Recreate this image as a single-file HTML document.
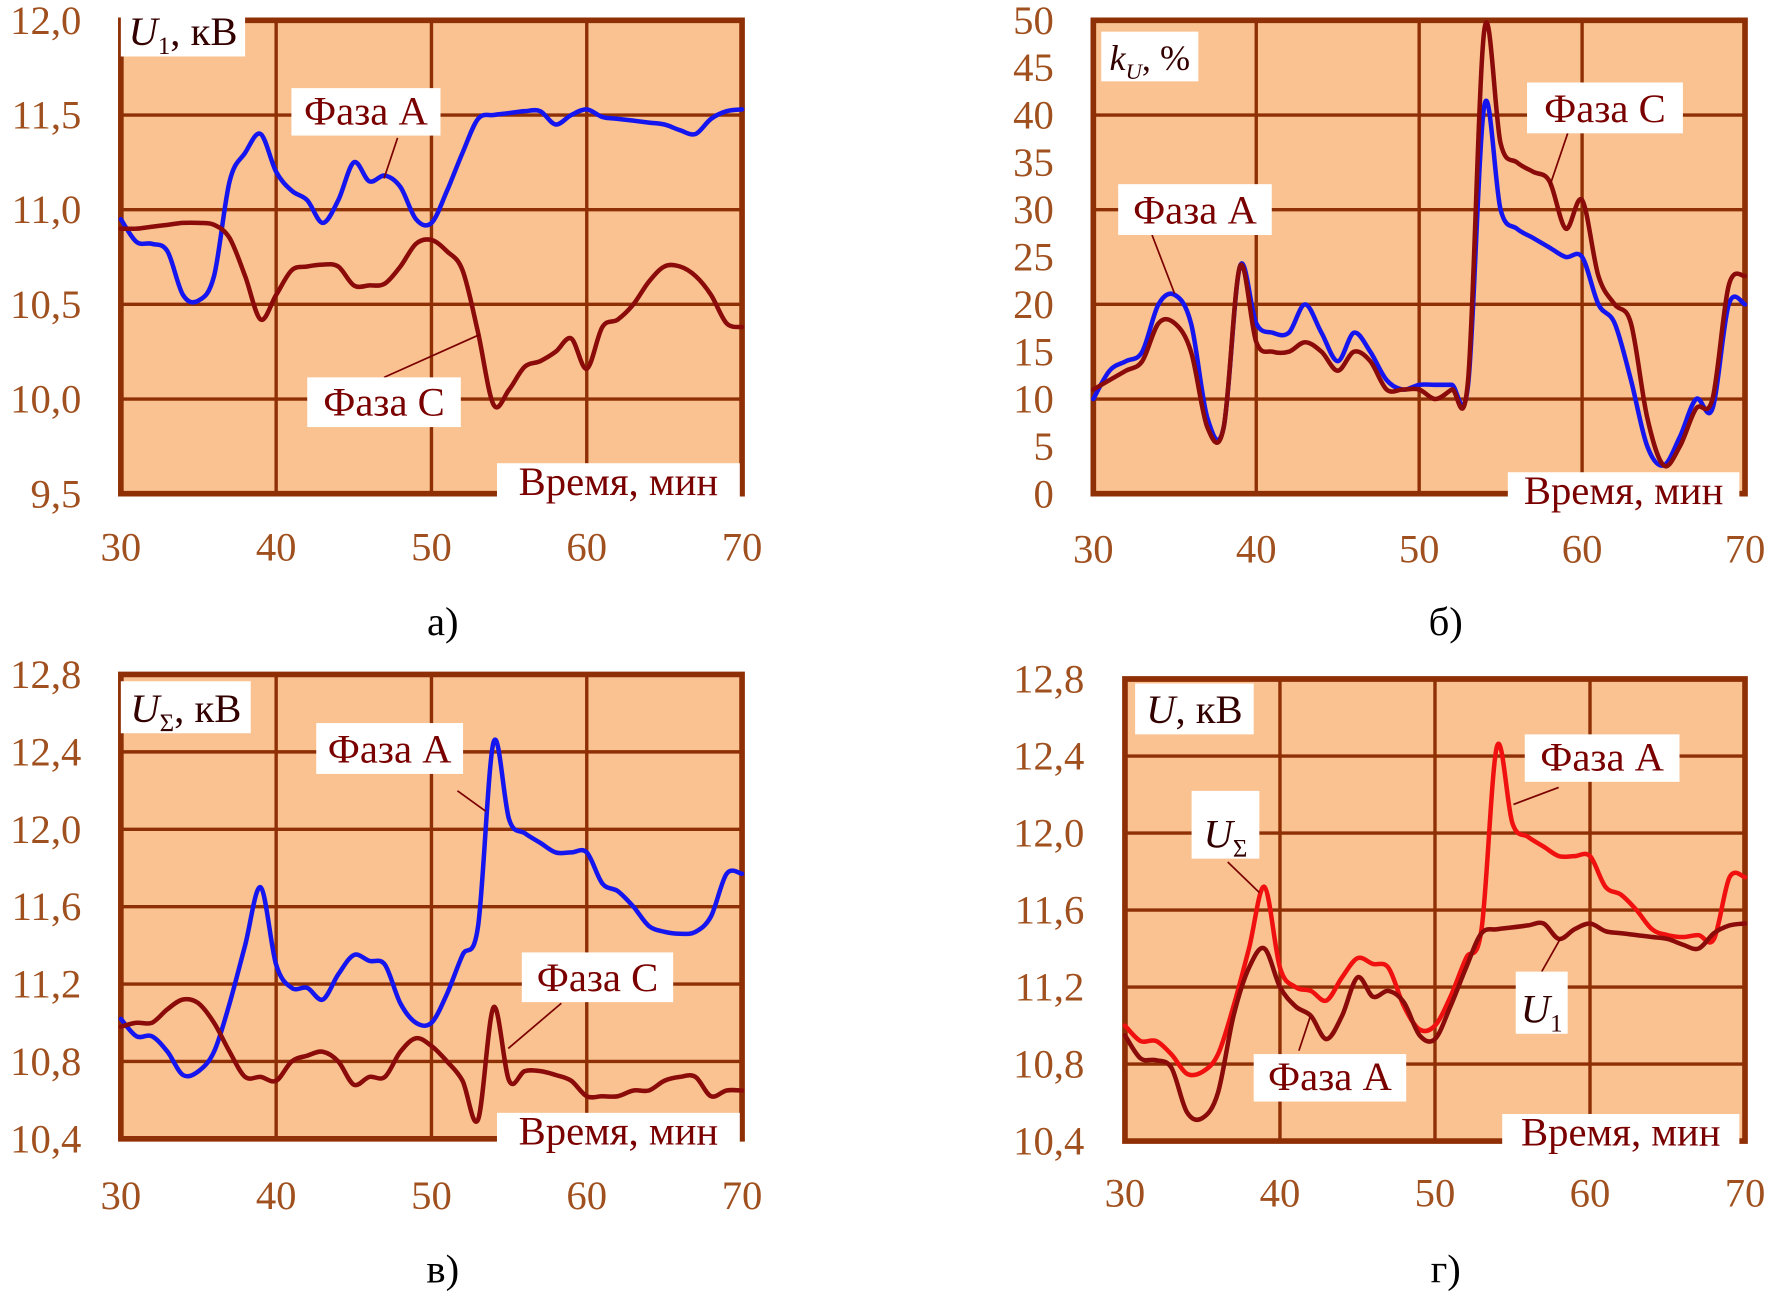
<!DOCTYPE html>
<html><head><meta charset="utf-8"><style>
html,body{margin:0;padding:0;background:#fff}
svg{display:block}
</style></head><body>
<svg id="chart" width="1771" height="1297" viewBox="0 0 1568 1148" preserveAspectRatio="none" xmlns="http://www.w3.org/2000/svg" font-family="'Liberation Serif','Times New Roman','DejaVu Serif',serif"></svg>
<script>
const xTimes=[30,31,32,33,34,35,36,37,38,39,40,41,42,43,44,45,46,47,48,49,50,51,52,53,54,55,56,57,58,59,60,61,62,63,64,65,66,67,68,69,70];
const xTicks=[30,40,50,60,70];
const aPhaseA=[10.95,10.83,10.82,10.78,10.55,10.52,10.65,11.15,11.3,11.4,11.2,11.1,11.05,10.93,11.05,11.25,11.15,11.18,11.12,10.95,10.93,11.1,11.3,11.48,11.5,11.51,11.52,11.52,11.45,11.5,11.53,11.49,11.48,11.47,11.46,11.45,11.42,11.4,11.48,11.52,11.53];
const aPhaseC=[10.9,10.9,10.91,10.92,10.93,10.93,10.92,10.85,10.65,10.42,10.55,10.68,10.7,10.71,10.7,10.6,10.6,10.61,10.7,10.82,10.84,10.78,10.68,10.35,9.97,10.05,10.17,10.2,10.25,10.32,10.16,10.38,10.42,10.5,10.62,10.7,10.7,10.65,10.55,10.4,10.38];
const aTicks=["9,5","10,0","10,5","11,0","11,5","12,0"];
const bPhaseA=[10,13,14,15,20,21,18,8,7,24,18,17,17,20,17,14,17,15,12,11,11.5,11.5,11.5,11.5,41,30,28,27,26,25,25,20,18,12,5,3,6,10,9,20,20];
const bPhaseC=[11,12,13,14,18,18,15,7,7,24,16,15,15,16,15,13,15,14,11,11,11,10,11,12,49,37,35,34,33,28,31,23,20,18,8,3,5,9,10,22,23];
const bTicks=["0","5","10","15","20","25","30","35","40","45","50"];
const vPhaseA=[11.02,10.93,10.93,10.85,10.73,10.75,10.85,11.1,11.4,11.7,11.3,11.18,11.18,11.12,11.25,11.35,11.32,11.3,11.1,11.0,11.0,11.15,11.35,11.5,12.45,12.05,11.98,11.93,11.88,11.88,11.88,11.72,11.68,11.6,11.5,11.47,11.46,11.47,11.55,11.77,11.77];
const vPhaseC=[10.98,11.0,11.0,11.07,11.12,11.1,11.0,10.85,10.72,10.72,10.7,10.8,10.83,10.85,10.8,10.68,10.72,10.72,10.85,10.92,10.88,10.8,10.7,10.5,11.08,10.7,10.75,10.75,10.73,10.7,10.62,10.62,10.62,10.65,10.65,10.7,10.72,10.72,10.62,10.65,10.65];
const vTicks=["10,4","10,8","11,2","11,6","12,0","12,4","12,8"];
const gUsum=[11.0,10.92,10.92,10.85,10.75,10.76,10.85,11.1,11.4,11.72,11.3,11.2,11.18,11.13,11.25,11.35,11.32,11.3,11.1,10.98,11.0,11.15,11.35,11.5,12.45,12.05,11.98,11.93,11.88,11.88,11.88,11.72,11.68,11.6,11.5,11.47,11.46,11.47,11.45,11.77,11.77];
const gU1=[10.95,10.83,10.82,10.78,10.55,10.52,10.65,11.05,11.3,11.4,11.2,11.1,11.05,10.93,11.05,11.25,11.15,11.18,11.12,10.95,10.93,11.1,11.3,11.48,11.5,11.51,11.52,11.53,11.45,11.5,11.53,11.49,11.48,11.47,11.46,11.45,11.42,11.4,11.48,11.52,11.53];
const gTicks=["10,4","10,8","11,2","11,6","12,0","12,4","12,8"];

const NS="http://www.w3.org/2000/svg";
const svg=document.getElementById('chart');
const BG="#F9C290",GRID="#8F2F06",TICK="#A0501E",LBL="#7A0000";
function el(tag,attrs,parent){const e=document.createElementNS(NS,tag);for(const k in attrs)e.setAttribute(k,attrs[k]);(parent||svg).appendChild(e);return e;}
function smooth(pts){
  let d='M'+pts[0][0].toFixed(1)+','+pts[0][1].toFixed(1);
  for(let i=0;i<pts.length-1;i++){
    const p0=pts[i-1]||pts[i],p1=pts[i],p2=pts[i+1],p3=pts[i+2]||p2;
    const c1=[p1[0]+(p2[0]-p0[0])/6,p1[1]+(p2[1]-p0[1])/6];
    const c2=[p2[0]-(p3[0]-p1[0])/6,p2[1]-(p3[1]-p1[1])/6];
    d+='C'+c1[0].toFixed(1)+','+c1[1].toFixed(1)+' '+c2[0].toFixed(1)+','+c2[1].toFixed(1)+' '+p2[0].toFixed(1)+','+p2[1].toFixed(1);
  }
  return d;
}
function panel(cfg){
  const g=el('g',{});
  
  
  const {L,R,T,B,ymin,ymax}=cfg;
  const xs=v=>L+(v-30)/40*(R-L);
  const ys=v=>B-(v-ymin)/(ymax-ymin)*(B-T);
  const bg=el('rect',{x:L,y:T,width:R-L,height:B-T,fill:BG},g);
  
  
  cfg.grid.forEach(v=>{const l=el('line',{x1:L,x2:R,y1:ys(v),y2:ys(v),stroke:GRID,'stroke-width':3},g);
    
    });
  [40,50,60].forEach(v=>{const l=el('line',{x1:xs(v),x2:xs(v),y1:T,y2:B,stroke:GRID,'stroke-width':3},g);
    
    });
  const fr=el('path',{d:`M${L},${B}V${T}H${R}V${B}Z`,fill:'none',stroke:GRID,'stroke-width':5},g);
  
  
  cfg.ticks.forEach((t,i)=>{const v=ymin+i*(ymax-ymin)/(cfg.ticks.length-1);
    const tx=el('text',{x:cfg.yLabX,y:ys(v)+12,'text-anchor':'end','font-size':36,fill:TICK},g);tx.textContent=t;
    
    });
  xTicks.forEach(t=>{const tx=el('text',{x:xs(t),y:cfg.xLabY,'text-anchor':'middle','font-size':36,fill:TICK},g);tx.textContent=t;
    
    });
  cfg.series.forEach(s=>{const pts=s.vals.map((v,i)=>[xs(xTimes[i]),ys(v)]);
    const p=el('path',{d:smooth(pts),fill:'none',stroke:s.color,'stroke-width':4,'stroke-linejoin':'round','stroke-linecap':'round'},g);
    
    });
  cfg.labels.forEach(lb=>{
    if(lb.lead){const l=el('line',{x1:lb.lead[0],y1:lb.lead[1],x2:lb.lead[2],y2:lb.lead[3],stroke:LBL,'stroke-width':1.5},g);
      
      }
    const r=el('rect',{x:lb.x,y:lb.y,width:lb.w,height:lb.h,fill:'#fff'},g);
    
    
    const t=el('text',{x:lb.x+lb.w/2,y:lb.y+lb.h-10,'text-anchor':'middle','font-size':lb.fs||36,fill:lb.color||LBL},g);
    t.innerHTML=lb.html;
    
    
  });
  const c=el('text',{x:cfg.cap[0],y:cfg.cap[1],'text-anchor':'middle','font-size':36,fill:'#000'},g);
  c.textContent=cfg.capText;
  
  
}
const BLUE="#1515F0",DRED="#8B0A0A",RED="#F01010";
panel({name:'panel-a',L:107,R:657,T:18,B:437,ymin:9.5,ymax:12.0,grid:[10,10.5,11,11.5],ticks:aTicks,yLabX:72,xLabY:496,
 series:[{name:'line-phase-a',vals:aPhaseA,color:BLUE},{name:'line-phase-c',vals:aPhaseC,color:DRED}],
 labels:[{name:'y-axis-title',x:107,y:0,w:110,h:50,html:'<tspan font-style="italic">U</tspan><tspan font-size="22" dy="8">1</tspan><tspan dy="-8">, кВ</tspan>',color:'#300'},
  {name:'label-phase-a',x:258,y:78,w:132,h:42,html:'Фаза А',lead:[352,122,340,158]},
  {name:'label-phase-c',x:272,y:334,w:136,h:44,html:'Фаза С',lead:[340,334,425,296]},
  {name:'x-axis-title',x:440,y:410,w:215,h:38,html:'Время, мин'}],
 cap:[392,562],capText:'а)'});
panel({name:'panel-b',L:968,R:1545,T:18,B:437,ymin:0,ymax:50,grid:[10,20,30,40],ticks:bTicks,yLabX:933,xLabY:498,
 series:[{name:'line-phase-a',vals:bPhaseA,color:BLUE},{name:'line-phase-c',vals:bPhaseC,color:DRED}],
 labels:[{name:'y-axis-title',x:975,y:28,w:86,h:44,html:'<tspan font-style="italic">k</tspan><tspan font-size="20" dy="8" font-style="italic">U</tspan><tspan dy="-8">, %</tspan>',color:'#300',fs:32},
  {name:'label-phase-c',x:1352,y:73,w:138,h:45,html:'Фаза С',lead:[1388,118,1372,165]},
  {name:'label-phase-a',x:990,y:163,w:136,h:45,html:'Фаза А',lead:[1020,208,1040,260]},
  {name:'x-axis-title',x:1335,y:418,w:205,h:38,html:'Время, мин'}],
 cap:[1280,562],capText:'б)'});
panel({name:'panel-v',L:107,R:657,T:597,B:1008,ymin:10.4,ymax:12.8,grid:[10.8,11.2,11.6,12.0,12.4],ticks:vTicks,yLabX:72,xLabY:1070,
 series:[{name:'line-phase-a',vals:vPhaseA,color:BLUE},{name:'line-phase-c',vals:vPhaseC,color:DRED}],
 labels:[{name:'y-axis-title',x:107,y:603,w:115,h:46,html:'<tspan font-style="italic">U</tspan><tspan font-size="22" dy="8">Σ</tspan><tspan dy="-8">, кВ</tspan>',color:'#300'},
  {name:'label-phase-a',x:280,y:640,w:130,h:45,html:'Фаза А',lead:[405,700,430,718]},
  {name:'label-phase-c',x:462,y:843,w:134,h:44,html:'Фаза С',lead:[497,888,450,928]},
  {name:'x-axis-title',x:440,y:985,w:215,h:38,html:'Время, мин'}],
 cap:[392,1135],capText:'в)'});
panel({name:'panel-g',L:996,R:1545,T:601,B:1010,ymin:10.4,ymax:12.8,grid:[10.8,11.2,11.6,12.0,12.4],ticks:gTicks,yLabX:960,xLabY:1068,
 series:[{name:'line-u-sum-phase-a',vals:gUsum,color:RED},{name:'line-u1-phase-a',vals:gU1,color:DRED}],
 labels:[{name:'y-axis-title',x:1005,y:605,w:105,h:45,html:'<tspan font-style="italic">U</tspan>, кВ',color:'#300'},
  {name:'label-phase-a-top',x:1350,y:650,w:137,h:42,html:'Фаза А',lead:[1380,697,1340,712]},
  {name:'label-u-sum',x:1055,y:700,w:60,h:60,html:'<tspan font-style="italic">U</tspan><tspan font-size="22" dy="8">Σ</tspan>',color:'#300',lead:[1087,763,1115,790]},
  {name:'label-phase-a-bottom',x:1110,y:933,w:135,h:42,html:'Фаза А',lead:[1150,930,1160,900]},
  {name:'label-u1',x:1342,y:860,w:46,h:55,html:'<tspan font-style="italic">U</tspan><tspan font-size="22" dy="8">1</tspan>',color:'#300',lead:[1365,860,1382,830]},
  {name:'x-axis-title',x:1330,y:986,w:210,h:38,html:'Время, мин'}],
 cap:[1280,1135],capText:'г)'});
</script>
</body></html>
